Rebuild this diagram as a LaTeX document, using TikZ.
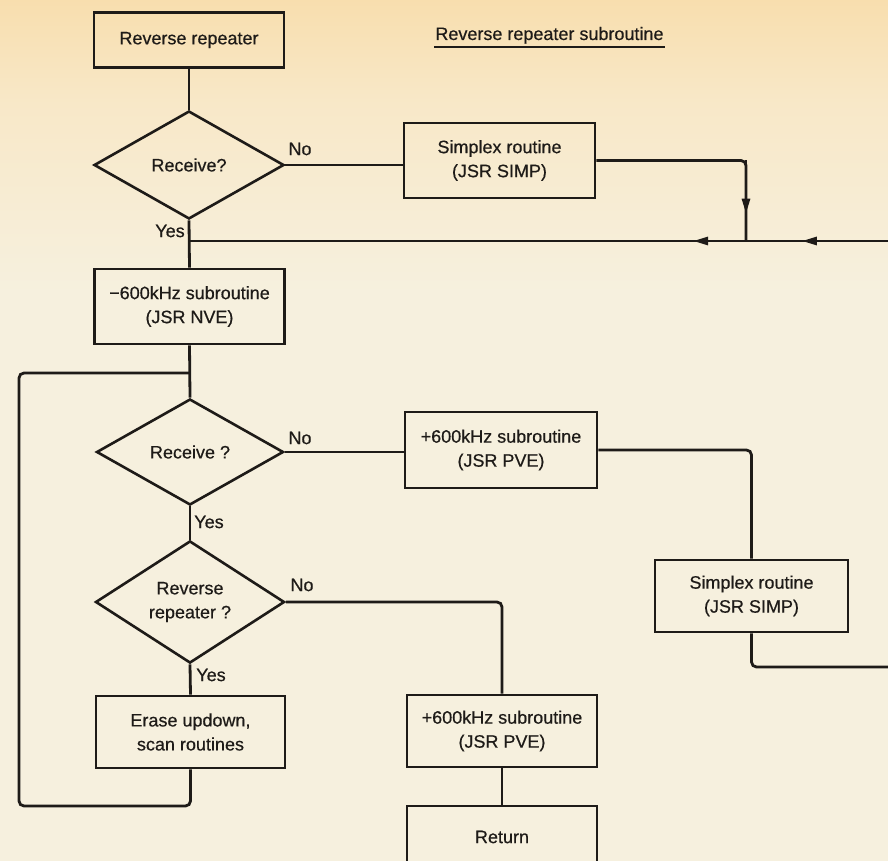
\documentclass[tikz,border=0pt]{standalone}
\usepackage{fontspec}
\newfontfamily\diafont{Liberation Sans}[FakeBold=0.5]
\usetikzlibrary{shapes.geometric,arrows.meta,decorations.markings}
\definecolor{ink}{RGB}{30,27,24}
\definecolor{bgtop}{RGB}{248,222,174}
\definecolor{bgmid}{RGB}{248,232,200}
\definecolor{bgbot}{RGB}{246,240,222}
\pgfdeclareverticalshading{papershade}{100bp}{color(0bp)=(bgbot); color(58bp)=(bgbot); color(69bp)=(bgmid); color(75bp)=(bgtop); color(100bp)=(bgtop)}
\begin{document}
\begin{tikzpicture}[x=1pt,y=-1pt,
  font=\diafont\fontsize{18}{24}\selectfont,
  line width=2.8pt, draw=ink, text=ink,
  boxn/.style={draw=ink, rectangle, line width=2.6pt, inner sep=0pt, align=center},
  dia/.style={draw=ink, diamond, line width=2.6pt, inner sep=0pt, align=center},
  lbl/.style={inner sep=0pt},
  arrowat/.style={postaction={decorate,decoration={markings,
      mark=at position #1 with {\arrow{Triangle[length=15pt,width=8pt]}}}}},
  link/.style={draw=ink, line width=2.8pt, rounded corners=5pt}]
\useasboundingbox (0,0) rectangle (888,861);
\shade[shading=papershade] (0,0) rectangle (888,861);
\clip (0,0) rectangle (888,861);

% nodes
\node[boxn, minimum width=190pt, minimum height=55pt] (b1) at (189,40) {Reverse repeater};
\node[anchor=base west, inner sep=0pt] (title) at (434,40) {Reverse repeater subroutine};
\draw[line width=2pt] ([yshift=-7pt]title.base west) -- ([yshift=-7pt]title.base east);

\node[dia, minimum width=190pt, minimum height=108pt] (d1) at (189,165) {Receive?};
\node[boxn, minimum width=191pt, minimum height=75pt] (s1) at (499.5,160.5) {Simplex routine\\(JSR SIMP)};
\node[boxn, minimum width=190pt, minimum height=75pt] (b2) at (189.5,306.5) {−600kHz subroutine\\(JSR NVE)};
\node[dia, minimum width=187pt, minimum height=106pt] (d2) at (190,452) {Receive ?};
\node[boxn, minimum width=192pt, minimum height=76pt] (b3) at (501,450) {+600kHz subroutine\\(JSR PVE)};
\node[dia, minimum width=189pt, minimum height=108pt] (d3) at (190,602) {Reverse\\repeater ?};
\node[boxn, minimum width=193pt, minimum height=72pt] (s2) at (751.5,596) {Simplex routine\\(JSR SIMP)};
\node[boxn, minimum width=189pt, minimum height=72pt] (b4) at (190.5,732) {Erase updown,\\scan routines};
\node[boxn, minimum width=190pt, minimum height=72pt] (b5) at (502,731) {+600kHz subroutine\\(JSR PVE)};
\node[boxn, minimum width=190pt, minimum height=62pt] (ret) at (502,837) {Return};

% coordinates
\coordinate (j1) at (746,241);
\coordinate (jr) at (900,241);
\coordinate (j0) at (d1.south |- j1);
\coordinate (lt) at (19,373);
\coordinate (lb) at (19,806);
\coordinate (jl) at (b2.south |- lt);
\coordinate (jr2) at (900,667);

% connectors
\draw[link] (b1) -- (d1);
\draw[link] (d1.east) -- (d1.east -| s1.west);
\draw[link] (s1.east) -| (j1);
\draw[link, arrowat=0.66] (s1.east -| j1) -- (j1);
\draw[link, arrowat=0.138, arrowat=0.291] (jr) -- (j0);
\draw[link] (d1.south) -- (b2.north);
\draw[link] (b2.south) -- (d2.north);
\draw[link] (b4.south) |- (lb) -- (lt) -- (jl);
\draw[link] (d2.east) -- (d2.east -| b3.west);
\draw[link] (b3.east) -| (s2.north);
\draw[link] (s2.south) |- (jr2);
\draw[link] (d2.south) -- (d3.north);
\draw[link] (d3.east) -| (b5.north);
\draw[link] (d3.south) -- (b4.north);
\draw[link] (b5.south) -- (ret.north);

% labels
\node[lbl] (l1) at (300,149) {No};
\node[lbl] (l2) at (170,231) {Yes};
\node[lbl] (l3) at (300,438) {No};
\node[lbl] (l4) at (209,522) {Yes};
\node[lbl] (l5) at (302,585) {No};
\node[lbl] (l6) at (211,675) {Yes};
\end{tikzpicture}
\end{document}
